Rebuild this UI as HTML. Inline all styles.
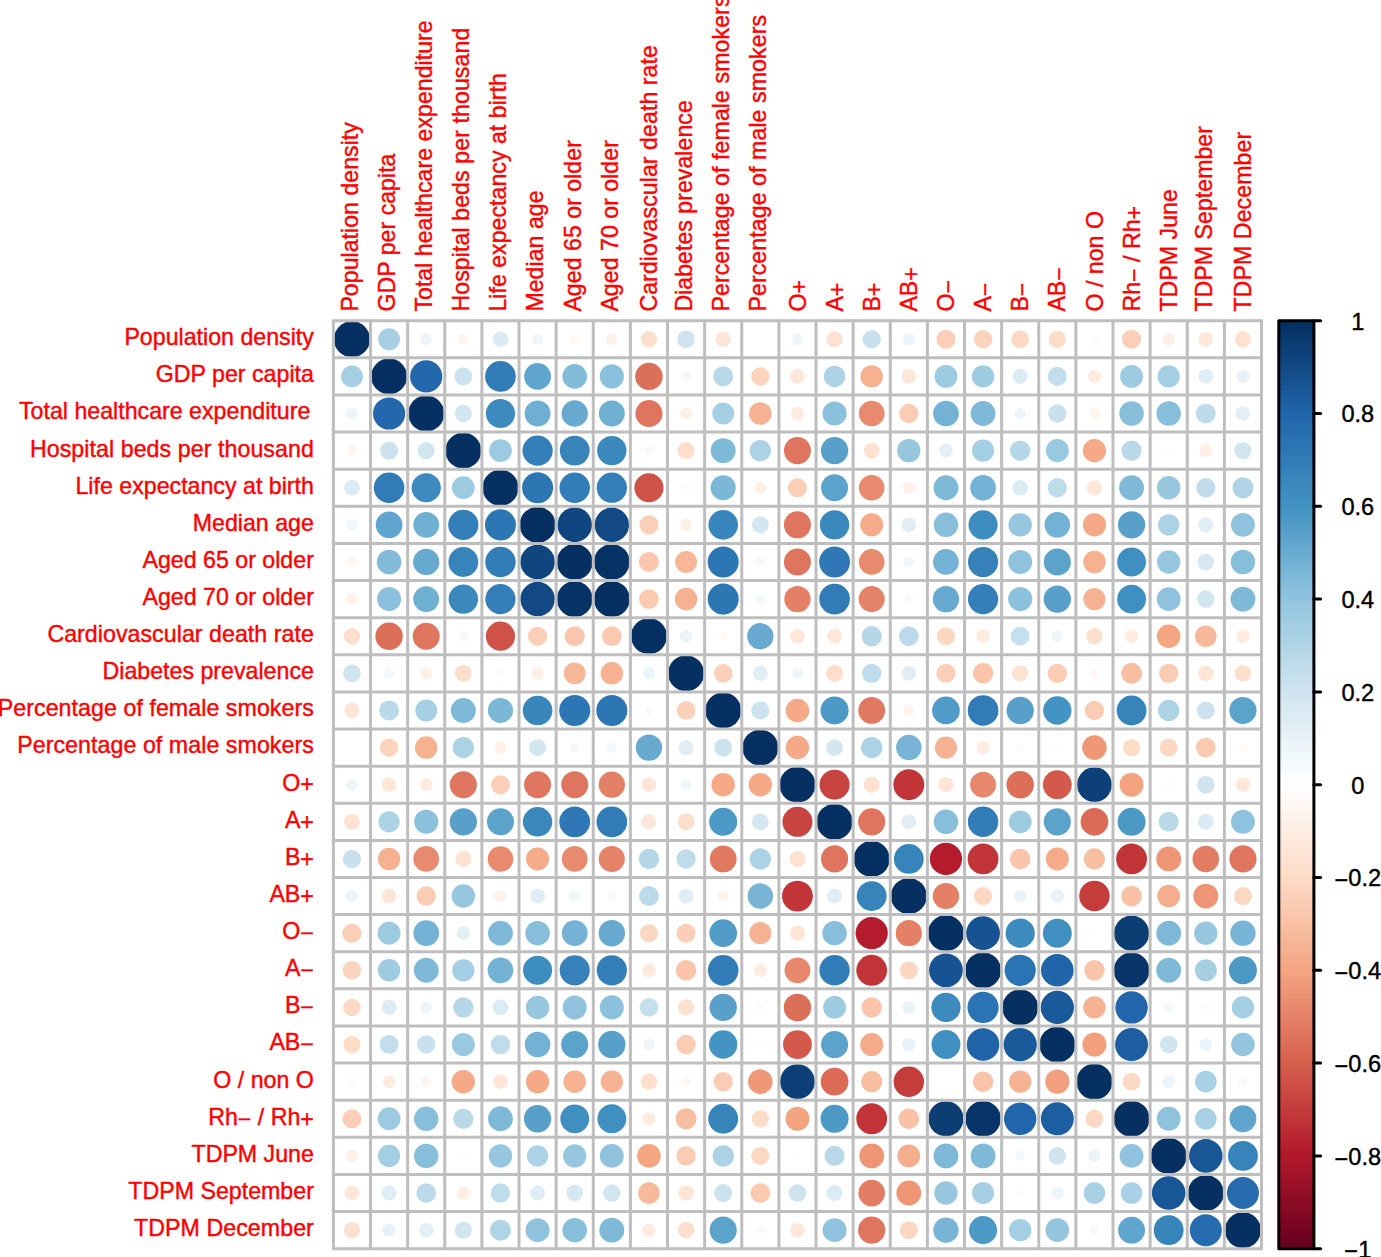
<!DOCTYPE html><html><head><meta charset="utf-8"><title>corrplot</title><style>html,body{margin:0;padding:0;background:#fff}svg{display:block}text{font-family:"Liberation Sans",sans-serif}</style></head><body>
<svg width="1381" height="1257" viewBox="0 0 1381 1257">
<rect width="1381" height="1257" fill="#fff"/>
<g>
<circle cx="351.96" cy="339.26" r="18.01" fill="#053061"/>
<circle cx="389.09" cy="339.26" r="10.95" fill="#A6CFE4"/>
<circle cx="426.21" cy="339.26" r="5.86" fill="#EEF5F9"/>
<circle cx="463.33" cy="339.26" r="5.09" fill="#FEF5F0"/>
<circle cx="500.46" cy="339.26" r="7.82" fill="#DBEBF3"/>
<circle cx="537.58" cy="339.26" r="5.61" fill="#F0F7FA"/>
<circle cx="574.71" cy="339.26" r="4.69" fill="#FFF7F2"/>
<circle cx="611.83" cy="339.26" r="5.77" fill="#FEF1EA"/>
<circle cx="648.95" cy="339.26" r="8.24" fill="#FDDFCE"/>
<circle cx="686.08" cy="339.26" r="8.82" fill="#CFE4EF"/>
<circle cx="723.20" cy="339.26" r="7.60" fill="#FEE5D6"/>
<circle cx="797.45" cy="339.26" r="5.77" fill="#EEF5F9"/>
<circle cx="834.57" cy="339.26" r="8.03" fill="#FDE1D1"/>
<circle cx="871.70" cy="339.26" r="9.19" fill="#C9E1EE"/>
<circle cx="908.82" cy="339.26" r="6.22" fill="#EBF4F9"/>
<circle cx="945.95" cy="339.26" r="9.53" fill="#FBCFB7"/>
<circle cx="983.07" cy="339.26" r="9.19" fill="#FCD4BE"/>
<circle cx="1020.19" cy="339.26" r="8.82" fill="#FDD9C5"/>
<circle cx="1057.32" cy="339.26" r="8.63" fill="#FDDCC8"/>
<circle cx="1094.44" cy="339.26" r="3.71" fill="#FFFAF8"/>
<circle cx="1131.57" cy="339.26" r="9.53" fill="#FBCFB7"/>
<circle cx="1168.69" cy="339.26" r="6.22" fill="#FEF0E7"/>
<circle cx="1205.81" cy="339.26" r="7.37" fill="#FEE7D9"/>
<circle cx="1242.94" cy="339.26" r="8.14" fill="#FDE1D1"/>
<circle cx="351.96" cy="376.38" r="10.95" fill="#A6CFE4"/>
<circle cx="389.09" cy="376.38" r="18.01" fill="#053061"/>
<circle cx="426.21" cy="376.38" r="16.10" fill="#2368AD"/>
<circle cx="463.33" cy="376.38" r="9.01" fill="#CCE2EF"/>
<circle cx="500.46" cy="376.38" r="15.33" fill="#317BB7"/>
<circle cx="537.58" cy="376.38" r="13.40" fill="#60A5CD"/>
<circle cx="574.71" cy="376.38" r="12.30" fill="#83BCD9"/>
<circle cx="611.83" cy="376.38" r="12.05" fill="#8BC1DC"/>
<circle cx="648.95" cy="376.38" r="13.74" fill="#DC6F58"/>
<circle cx="686.08" cy="376.38" r="5.09" fill="#F2F8FB"/>
<circle cx="723.20" cy="376.38" r="10.03" fill="#B9D9E9"/>
<circle cx="760.33" cy="376.38" r="9.19" fill="#FCD4BE"/>
<circle cx="797.45" cy="376.38" r="7.37" fill="#FEE7D9"/>
<circle cx="834.57" cy="376.38" r="10.65" fill="#ACD2E6"/>
<circle cx="871.70" cy="376.38" r="11.23" fill="#F6B191"/>
<circle cx="908.82" cy="376.38" r="7.49" fill="#FEE7D9"/>
<circle cx="945.95" cy="376.38" r="11.44" fill="#9CCAE1"/>
<circle cx="983.07" cy="376.38" r="11.23" fill="#A0CCE2"/>
<circle cx="1020.19" cy="376.38" r="7.60" fill="#DDECF4"/>
<circle cx="1057.32" cy="376.38" r="9.53" fill="#C2DEEC"/>
<circle cx="1094.44" cy="376.38" r="6.63" fill="#FEECE1"/>
<circle cx="1131.57" cy="376.38" r="11.44" fill="#9CCAE1"/>
<circle cx="1168.69" cy="376.38" r="11.09" fill="#A3CEE3"/>
<circle cx="1205.81" cy="376.38" r="7.49" fill="#E0EDF5"/>
<circle cx="1242.94" cy="376.38" r="6.63" fill="#E7F1F7"/>
<circle cx="351.96" cy="413.50" r="5.86" fill="#EEF5F9"/>
<circle cx="389.09" cy="413.50" r="16.10" fill="#2368AD"/>
<circle cx="426.21" cy="413.50" r="18.01" fill="#053061"/>
<circle cx="463.33" cy="413.50" r="8.63" fill="#D2E6F0"/>
<circle cx="500.46" cy="413.50" r="14.61" fill="#3D8ABF"/>
<circle cx="537.58" cy="413.50" r="12.92" fill="#6FAFD2"/>
<circle cx="574.71" cy="413.50" r="13.16" fill="#68AACF"/>
<circle cx="611.83" cy="413.50" r="12.92" fill="#6FAFD2"/>
<circle cx="648.95" cy="413.50" r="13.51" fill="#DF755E"/>
<circle cx="686.08" cy="413.50" r="6.08" fill="#FEF0E7"/>
<circle cx="723.20" cy="413.50" r="10.95" fill="#A6CFE4"/>
<circle cx="760.33" cy="413.50" r="11.23" fill="#F6B191"/>
<circle cx="797.45" cy="413.50" r="6.63" fill="#FEECE1"/>
<circle cx="834.57" cy="413.50" r="12.05" fill="#8BC1DC"/>
<circle cx="871.70" cy="413.50" r="12.86" fill="#E88A6D"/>
<circle cx="908.82" cy="413.50" r="9.70" fill="#FACCB4"/>
<circle cx="945.95" cy="413.50" r="12.86" fill="#73B2D4"/>
<circle cx="983.07" cy="413.50" r="12.43" fill="#7FB9D8"/>
<circle cx="1020.19" cy="413.50" r="5.77" fill="#EEF5F9"/>
<circle cx="1057.32" cy="413.50" r="9.19" fill="#C9E1EE"/>
<circle cx="1094.44" cy="413.50" r="5.27" fill="#FEF5F0"/>
<circle cx="1131.57" cy="413.50" r="12.24" fill="#87BEDA"/>
<circle cx="1168.69" cy="413.50" r="12.24" fill="#87BEDA"/>
<circle cx="1205.81" cy="413.50" r="9.87" fill="#BCDAEA"/>
<circle cx="1242.94" cy="413.50" r="7.26" fill="#E2EFF6"/>
<circle cx="351.96" cy="450.62" r="5.09" fill="#FEF5F0"/>
<circle cx="389.09" cy="450.62" r="9.01" fill="#CCE2EF"/>
<circle cx="426.21" cy="450.62" r="8.63" fill="#D2E6F0"/>
<circle cx="463.33" cy="450.62" r="18.01" fill="#053061"/>
<circle cx="500.46" cy="450.62" r="11.37" fill="#9CCAE1"/>
<circle cx="537.58" cy="450.62" r="15.13" fill="#347FB9"/>
<circle cx="574.71" cy="450.62" r="14.92" fill="#3784BB"/>
<circle cx="611.83" cy="450.62" r="14.71" fill="#3B88BD"/>
<circle cx="648.95" cy="450.62" r="4.89" fill="#F5F9FC"/>
<circle cx="686.08" cy="450.62" r="8.44" fill="#FDDECB"/>
<circle cx="723.20" cy="450.62" r="12.49" fill="#7FB9D8"/>
<circle cx="760.33" cy="450.62" r="10.65" fill="#ACD2E6"/>
<circle cx="797.45" cy="450.62" r="13.51" fill="#DF755E"/>
<circle cx="834.57" cy="450.62" r="13.68" fill="#58A0CA"/>
<circle cx="871.70" cy="450.62" r="7.99" fill="#FDE1D1"/>
<circle cx="908.82" cy="450.62" r="11.72" fill="#96C7DF"/>
<circle cx="945.95" cy="450.62" r="6.89" fill="#E4F0F6"/>
<circle cx="983.07" cy="450.62" r="11.09" fill="#A3CEE3"/>
<circle cx="1020.19" cy="450.62" r="10.19" fill="#B6D7E8"/>
<circle cx="1057.32" cy="450.62" r="11.51" fill="#99C9E0"/>
<circle cx="1094.44" cy="450.62" r="11.65" fill="#F5A987"/>
<circle cx="1131.57" cy="450.62" r="10.11" fill="#B9D9E9"/>
<circle cx="1168.69" cy="450.62" r="3.02" fill="#FCFDFE"/>
<circle cx="1205.81" cy="450.62" r="6.50" fill="#FEEEE4"/>
<circle cx="1242.94" cy="450.62" r="8.63" fill="#D2E6F0"/>
<circle cx="351.96" cy="487.74" r="7.82" fill="#DBEBF3"/>
<circle cx="389.09" cy="487.74" r="15.33" fill="#317BB7"/>
<circle cx="426.21" cy="487.74" r="14.61" fill="#3D8ABF"/>
<circle cx="463.33" cy="487.74" r="11.37" fill="#9CCAE1"/>
<circle cx="500.46" cy="487.74" r="18.01" fill="#053061"/>
<circle cx="537.58" cy="487.74" r="15.53" fill="#2D76B4"/>
<circle cx="574.71" cy="487.74" r="15.23" fill="#327DB8"/>
<circle cx="611.83" cy="487.74" r="15.13" fill="#347FB9"/>
<circle cx="648.95" cy="487.74" r="14.61" fill="#CF5247"/>
<circle cx="686.08" cy="487.74" r="3.71" fill="#F9FCFD"/>
<circle cx="723.20" cy="487.74" r="12.56" fill="#7BB7D6"/>
<circle cx="760.33" cy="487.74" r="6.08" fill="#FEF0E7"/>
<circle cx="797.45" cy="487.74" r="9.53" fill="#FBCFB7"/>
<circle cx="834.57" cy="487.74" r="13.51" fill="#5CA3CB"/>
<circle cx="871.70" cy="487.74" r="12.80" fill="#E88A6D"/>
<circle cx="908.82" cy="487.74" r="5.93" fill="#FEF1EA"/>
<circle cx="945.95" cy="487.74" r="12.43" fill="#7FB9D8"/>
<circle cx="983.07" cy="487.74" r="12.86" fill="#73B2D4"/>
<circle cx="1020.19" cy="487.74" r="7.82" fill="#DBEBF3"/>
<circle cx="1057.32" cy="487.74" r="9.70" fill="#BFDCEB"/>
<circle cx="1094.44" cy="487.74" r="7.37" fill="#FEE7D9"/>
<circle cx="1131.57" cy="487.74" r="12.43" fill="#7FB9D8"/>
<circle cx="1168.69" cy="487.74" r="11.72" fill="#96C7DF"/>
<circle cx="1205.81" cy="487.74" r="9.70" fill="#BFDCEB"/>
<circle cx="1242.94" cy="487.74" r="10.50" fill="#AFD4E6"/>
<circle cx="351.96" cy="524.86" r="5.61" fill="#F0F7FA"/>
<circle cx="389.09" cy="524.86" r="13.40" fill="#60A5CD"/>
<circle cx="426.21" cy="524.86" r="12.92" fill="#6FAFD2"/>
<circle cx="463.33" cy="524.86" r="15.13" fill="#347FB9"/>
<circle cx="500.46" cy="524.86" r="15.53" fill="#2D76B4"/>
<circle cx="537.58" cy="524.86" r="18.01" fill="#053061"/>
<circle cx="574.71" cy="524.86" r="17.32" fill="#10467F"/>
<circle cx="611.83" cy="524.86" r="17.24" fill="#124883"/>
<circle cx="648.95" cy="524.86" r="9.53" fill="#FBCFB7"/>
<circle cx="686.08" cy="524.86" r="6.08" fill="#FEF0E7"/>
<circle cx="723.20" cy="524.86" r="14.82" fill="#3986BC"/>
<circle cx="760.33" cy="524.86" r="8.44" fill="#D4E7F1"/>
<circle cx="797.45" cy="524.86" r="13.51" fill="#DF755E"/>
<circle cx="834.57" cy="524.86" r="14.71" fill="#3B88BD"/>
<circle cx="871.70" cy="524.86" r="11.51" fill="#F5AB8A"/>
<circle cx="908.82" cy="524.86" r="7.37" fill="#E0EDF5"/>
<circle cx="945.95" cy="524.86" r="12.24" fill="#87BEDA"/>
<circle cx="983.07" cy="524.86" r="14.56" fill="#3E8DC0"/>
<circle cx="1020.19" cy="524.86" r="11.72" fill="#96C7DF"/>
<circle cx="1057.32" cy="524.86" r="12.80" fill="#73B2D4"/>
<circle cx="1094.44" cy="524.86" r="11.65" fill="#F5A987"/>
<circle cx="1131.57" cy="524.86" r="13.68" fill="#58A0CA"/>
<circle cx="1168.69" cy="524.86" r="10.65" fill="#ACD2E6"/>
<circle cx="1205.81" cy="524.86" r="7.49" fill="#E0EDF5"/>
<circle cx="1242.94" cy="524.86" r="11.98" fill="#8FC3DD"/>
<circle cx="351.96" cy="561.98" r="4.69" fill="#FFF7F2"/>
<circle cx="389.09" cy="561.98" r="12.30" fill="#83BCD9"/>
<circle cx="426.21" cy="561.98" r="13.16" fill="#68AACF"/>
<circle cx="463.33" cy="561.98" r="14.92" fill="#3784BB"/>
<circle cx="500.46" cy="561.98" r="15.23" fill="#327DB8"/>
<circle cx="537.58" cy="561.98" r="17.32" fill="#10467F"/>
<circle cx="574.71" cy="561.98" r="18.01" fill="#053061"/>
<circle cx="611.83" cy="561.98" r="17.92" fill="#063365"/>
<circle cx="648.95" cy="561.98" r="10.03" fill="#FAC6AD"/>
<circle cx="686.08" cy="561.98" r="10.95" fill="#F7B698"/>
<circle cx="723.20" cy="561.98" r="15.53" fill="#2D76B4"/>
<circle cx="760.33" cy="561.98" r="4.89" fill="#F5F9FC"/>
<circle cx="797.45" cy="561.98" r="13.51" fill="#DF755E"/>
<circle cx="834.57" cy="561.98" r="15.43" fill="#2F78B5"/>
<circle cx="871.70" cy="561.98" r="12.86" fill="#E88A6D"/>
<circle cx="908.82" cy="561.98" r="5.44" fill="#F0F7FA"/>
<circle cx="945.95" cy="561.98" r="12.86" fill="#73B2D4"/>
<circle cx="983.07" cy="561.98" r="15.08" fill="#3681BA"/>
<circle cx="1020.19" cy="561.98" r="11.98" fill="#8FC3DD"/>
<circle cx="1057.32" cy="561.98" r="13.57" fill="#5CA3CB"/>
<circle cx="1094.44" cy="561.98" r="11.23" fill="#F6B191"/>
<circle cx="1131.57" cy="561.98" r="14.40" fill="#408FC1"/>
<circle cx="1168.69" cy="561.98" r="11.65" fill="#96C7DF"/>
<circle cx="1205.81" cy="561.98" r="8.34" fill="#D7E8F2"/>
<circle cx="1242.94" cy="561.98" r="12.24" fill="#87BEDA"/>
<circle cx="351.96" cy="599.10" r="5.77" fill="#FEF1EA"/>
<circle cx="389.09" cy="599.10" r="12.05" fill="#8BC1DC"/>
<circle cx="426.21" cy="599.10" r="12.92" fill="#6FAFD2"/>
<circle cx="463.33" cy="599.10" r="14.71" fill="#3B88BD"/>
<circle cx="500.46" cy="599.10" r="15.13" fill="#347FB9"/>
<circle cx="537.58" cy="599.10" r="17.24" fill="#124883"/>
<circle cx="574.71" cy="599.10" r="17.92" fill="#063365"/>
<circle cx="611.83" cy="599.10" r="18.01" fill="#053061"/>
<circle cx="648.95" cy="599.10" r="9.87" fill="#FAC9B0"/>
<circle cx="686.08" cy="599.10" r="11.23" fill="#F6B191"/>
<circle cx="723.20" cy="599.10" r="15.53" fill="#2D76B4"/>
<circle cx="760.33" cy="599.10" r="5.09" fill="#F2F8FB"/>
<circle cx="797.45" cy="599.10" r="13.16" fill="#E48066"/>
<circle cx="834.57" cy="599.10" r="15.33" fill="#317BB7"/>
<circle cx="871.70" cy="599.10" r="13.04" fill="#E58368"/>
<circle cx="908.82" cy="599.10" r="4.24" fill="#F7FAFC"/>
<circle cx="945.95" cy="599.10" r="13.22" fill="#68AACF"/>
<circle cx="983.07" cy="599.10" r="15.13" fill="#347FB9"/>
<circle cx="1020.19" cy="599.10" r="12.05" fill="#8BC1DC"/>
<circle cx="1057.32" cy="599.10" r="13.68" fill="#58A0CA"/>
<circle cx="1094.44" cy="599.10" r="11.09" fill="#F6B394"/>
<circle cx="1131.57" cy="599.10" r="14.45" fill="#408FC1"/>
<circle cx="1168.69" cy="599.10" r="11.92" fill="#8FC3DD"/>
<circle cx="1205.81" cy="599.10" r="8.73" fill="#D2E6F0"/>
<circle cx="1242.94" cy="599.10" r="12.43" fill="#7FB9D8"/>
<circle cx="351.96" cy="636.22" r="8.24" fill="#FDDFCE"/>
<circle cx="389.09" cy="636.22" r="13.74" fill="#DC6F58"/>
<circle cx="426.21" cy="636.22" r="13.51" fill="#DF755E"/>
<circle cx="463.33" cy="636.22" r="4.89" fill="#F5F9FC"/>
<circle cx="500.46" cy="636.22" r="14.61" fill="#CF5247"/>
<circle cx="537.58" cy="636.22" r="9.53" fill="#FBCFB7"/>
<circle cx="574.71" cy="636.22" r="10.03" fill="#FAC6AD"/>
<circle cx="611.83" cy="636.22" r="9.87" fill="#FAC9B0"/>
<circle cx="648.95" cy="636.22" r="18.01" fill="#053061"/>
<circle cx="686.08" cy="636.22" r="6.22" fill="#EBF4F9"/>
<circle cx="723.20" cy="636.22" r="4.24" fill="#FFF9F5"/>
<circle cx="760.33" cy="636.22" r="13.16" fill="#68AACF"/>
<circle cx="797.45" cy="636.22" r="7.37" fill="#FEE7D9"/>
<circle cx="834.57" cy="636.22" r="7.49" fill="#FEE7D9"/>
<circle cx="871.70" cy="636.22" r="10.19" fill="#B6D7E8"/>
<circle cx="908.82" cy="636.22" r="9.95" fill="#BCDAEA"/>
<circle cx="945.95" cy="636.22" r="9.01" fill="#FCD7C1"/>
<circle cx="983.07" cy="636.22" r="6.89" fill="#FEEADF"/>
<circle cx="1020.19" cy="636.22" r="9.36" fill="#C6DFED"/>
<circle cx="1057.32" cy="636.22" r="5.77" fill="#EEF5F9"/>
<circle cx="1094.44" cy="636.22" r="8.24" fill="#FDDFCE"/>
<circle cx="1131.57" cy="636.22" r="6.63" fill="#FEECE1"/>
<circle cx="1168.69" cy="636.22" r="11.78" fill="#F4A683"/>
<circle cx="1205.81" cy="636.22" r="10.80" fill="#F7B99B"/>
<circle cx="1242.94" cy="636.22" r="6.76" fill="#FEECE1"/>
<circle cx="351.96" cy="673.34" r="8.82" fill="#CFE4EF"/>
<circle cx="389.09" cy="673.34" r="5.09" fill="#F2F8FB"/>
<circle cx="426.21" cy="673.34" r="6.08" fill="#FEF0E7"/>
<circle cx="463.33" cy="673.34" r="8.44" fill="#FDDECB"/>
<circle cx="500.46" cy="673.34" r="3.71" fill="#F9FCFD"/>
<circle cx="537.58" cy="673.34" r="6.08" fill="#FEF0E7"/>
<circle cx="574.71" cy="673.34" r="10.95" fill="#F7B698"/>
<circle cx="611.83" cy="673.34" r="11.23" fill="#F6B191"/>
<circle cx="648.95" cy="673.34" r="6.22" fill="#EBF4F9"/>
<circle cx="686.08" cy="673.34" r="18.01" fill="#053061"/>
<circle cx="723.20" cy="673.34" r="9.36" fill="#FBD1BB"/>
<circle cx="760.33" cy="673.34" r="7.49" fill="#E0EDF5"/>
<circle cx="797.45" cy="673.34" r="5.44" fill="#F0F7FA"/>
<circle cx="834.57" cy="673.34" r="8.44" fill="#FDDECB"/>
<circle cx="871.70" cy="673.34" r="9.70" fill="#BFDCEB"/>
<circle cx="908.82" cy="673.34" r="7.37" fill="#E0EDF5"/>
<circle cx="945.95" cy="673.34" r="9.53" fill="#FBCFB7"/>
<circle cx="983.07" cy="673.34" r="10.27" fill="#F9C4A9"/>
<circle cx="1020.19" cy="673.34" r="8.14" fill="#FDE1D1"/>
<circle cx="1057.32" cy="673.34" r="9.70" fill="#FACCB4"/>
<circle cx="1094.44" cy="673.34" r="4.69" fill="#FFF7F2"/>
<circle cx="1131.57" cy="673.34" r="10.50" fill="#F8BEA2"/>
<circle cx="1168.69" cy="673.34" r="9.70" fill="#FACCB4"/>
<circle cx="1205.81" cy="673.34" r="7.71" fill="#FEE5D6"/>
<circle cx="1242.94" cy="673.34" r="8.24" fill="#FDDFCE"/>
<circle cx="351.96" cy="710.46" r="7.60" fill="#FEE5D6"/>
<circle cx="389.09" cy="710.46" r="10.03" fill="#B9D9E9"/>
<circle cx="426.21" cy="710.46" r="10.95" fill="#A6CFE4"/>
<circle cx="463.33" cy="710.46" r="12.49" fill="#7FB9D8"/>
<circle cx="500.46" cy="710.46" r="12.56" fill="#7BB7D6"/>
<circle cx="537.58" cy="710.46" r="14.82" fill="#3986BC"/>
<circle cx="574.71" cy="710.46" r="15.53" fill="#2D76B4"/>
<circle cx="611.83" cy="710.46" r="15.53" fill="#2D76B4"/>
<circle cx="648.95" cy="710.46" r="4.24" fill="#FFF9F5"/>
<circle cx="686.08" cy="710.46" r="9.36" fill="#FBD1BB"/>
<circle cx="723.20" cy="710.46" r="18.01" fill="#053061"/>
<circle cx="760.33" cy="710.46" r="9.01" fill="#CCE2EF"/>
<circle cx="797.45" cy="710.46" r="11.72" fill="#F5A987"/>
<circle cx="834.57" cy="710.46" r="14.02" fill="#4C99C6"/>
<circle cx="871.70" cy="710.46" r="13.40" fill="#E17960"/>
<circle cx="908.82" cy="710.46" r="5.44" fill="#FEF3ED"/>
<circle cx="945.95" cy="710.46" r="13.85" fill="#509BC7"/>
<circle cx="983.07" cy="710.46" r="15.33" fill="#317BB7"/>
<circle cx="1020.19" cy="710.46" r="13.68" fill="#58A0CA"/>
<circle cx="1057.32" cy="710.46" r="14.18" fill="#4494C3"/>
<circle cx="1094.44" cy="710.46" r="9.70" fill="#FACCB4"/>
<circle cx="1131.57" cy="710.46" r="14.92" fill="#3784BB"/>
<circle cx="1168.69" cy="710.46" r="10.65" fill="#ACD2E6"/>
<circle cx="1205.81" cy="710.46" r="9.01" fill="#CCE2EF"/>
<circle cx="1242.94" cy="710.46" r="13.57" fill="#5CA3CB"/>
<circle cx="389.09" cy="747.58" r="9.19" fill="#FCD4BE"/>
<circle cx="426.21" cy="747.58" r="11.23" fill="#F6B191"/>
<circle cx="463.33" cy="747.58" r="10.65" fill="#ACD2E6"/>
<circle cx="500.46" cy="747.58" r="6.08" fill="#FEF0E7"/>
<circle cx="537.58" cy="747.58" r="8.44" fill="#D4E7F1"/>
<circle cx="574.71" cy="747.58" r="4.89" fill="#F5F9FC"/>
<circle cx="611.83" cy="747.58" r="5.09" fill="#F2F8FB"/>
<circle cx="648.95" cy="747.58" r="13.16" fill="#68AACF"/>
<circle cx="686.08" cy="747.58" r="7.49" fill="#E0EDF5"/>
<circle cx="723.20" cy="747.58" r="9.01" fill="#CCE2EF"/>
<circle cx="760.33" cy="747.58" r="18.01" fill="#053061"/>
<circle cx="797.45" cy="747.58" r="11.72" fill="#F5A987"/>
<circle cx="834.57" cy="747.58" r="8.44" fill="#D4E7F1"/>
<circle cx="871.70" cy="747.58" r="10.65" fill="#ACD2E6"/>
<circle cx="908.82" cy="747.58" r="12.74" fill="#77B4D5"/>
<circle cx="945.95" cy="747.58" r="11.09" fill="#F6B394"/>
<circle cx="983.07" cy="747.58" r="6.63" fill="#FEECE1"/>
<circle cx="1020.19" cy="747.58" r="3.71" fill="#F9FCFD"/>
<circle cx="1057.32" cy="747.58" r="3.02" fill="#FCFDFE"/>
<circle cx="1094.44" cy="747.58" r="12.30" fill="#EE9878"/>
<circle cx="1131.57" cy="747.58" r="8.63" fill="#FDDCC8"/>
<circle cx="1168.69" cy="747.58" r="9.01" fill="#FCD7C1"/>
<circle cx="1205.81" cy="747.58" r="9.87" fill="#FAC9B0"/>
<circle cx="1242.94" cy="747.58" r="4.24" fill="#FFF9F5"/>
<circle cx="351.96" cy="784.70" r="5.77" fill="#EEF5F9"/>
<circle cx="389.09" cy="784.70" r="7.37" fill="#FEE7D9"/>
<circle cx="426.21" cy="784.70" r="6.63" fill="#FEECE1"/>
<circle cx="463.33" cy="784.70" r="13.51" fill="#DF755E"/>
<circle cx="500.46" cy="784.70" r="9.53" fill="#FBCFB7"/>
<circle cx="537.58" cy="784.70" r="13.51" fill="#DF755E"/>
<circle cx="574.71" cy="784.70" r="13.51" fill="#DF755E"/>
<circle cx="611.83" cy="784.70" r="13.16" fill="#E48066"/>
<circle cx="648.95" cy="784.70" r="7.37" fill="#FEE7D9"/>
<circle cx="686.08" cy="784.70" r="5.44" fill="#F0F7FA"/>
<circle cx="723.20" cy="784.70" r="11.72" fill="#F5A987"/>
<circle cx="760.33" cy="784.70" r="11.72" fill="#F5A987"/>
<circle cx="797.45" cy="784.70" r="18.01" fill="#053061"/>
<circle cx="834.57" cy="784.70" r="15.02" fill="#C84440"/>
<circle cx="871.70" cy="784.70" r="8.03" fill="#FDE1D1"/>
<circle cx="908.82" cy="784.70" r="15.43" fill="#C13539"/>
<circle cx="945.95" cy="784.70" r="7.60" fill="#FEE5D6"/>
<circle cx="983.07" cy="784.70" r="12.92" fill="#E7876B"/>
<circle cx="1020.19" cy="784.70" r="13.74" fill="#DC6F58"/>
<circle cx="1057.32" cy="784.70" r="14.40" fill="#D3594A"/>
<circle cx="1094.44" cy="784.70" r="17.41" fill="#0D4078"/>
<circle cx="1131.57" cy="784.70" r="11.98" fill="#F3A380"/>
<circle cx="1168.69" cy="784.70" r="3.02" fill="#FCFDFE"/>
<circle cx="1205.81" cy="784.70" r="8.82" fill="#CFE4EF"/>
<circle cx="1242.94" cy="784.70" r="7.26" fill="#FEE8DC"/>
<circle cx="351.96" cy="821.82" r="8.03" fill="#FDE1D1"/>
<circle cx="389.09" cy="821.82" r="10.65" fill="#ACD2E6"/>
<circle cx="426.21" cy="821.82" r="12.05" fill="#8BC1DC"/>
<circle cx="463.33" cy="821.82" r="13.68" fill="#58A0CA"/>
<circle cx="500.46" cy="821.82" r="13.51" fill="#5CA3CB"/>
<circle cx="537.58" cy="821.82" r="14.71" fill="#3B88BD"/>
<circle cx="574.71" cy="821.82" r="15.43" fill="#2F78B5"/>
<circle cx="611.83" cy="821.82" r="15.33" fill="#317BB7"/>
<circle cx="648.95" cy="821.82" r="7.49" fill="#FEE7D9"/>
<circle cx="686.08" cy="821.82" r="8.44" fill="#FDDECB"/>
<circle cx="723.20" cy="821.82" r="14.02" fill="#4C99C6"/>
<circle cx="760.33" cy="821.82" r="8.44" fill="#D4E7F1"/>
<circle cx="797.45" cy="821.82" r="15.02" fill="#C84440"/>
<circle cx="834.57" cy="821.82" r="18.01" fill="#053061"/>
<circle cx="871.70" cy="821.82" r="13.57" fill="#DF755E"/>
<circle cx="908.82" cy="821.82" r="7.37" fill="#E0EDF5"/>
<circle cx="945.95" cy="821.82" r="12.24" fill="#87BEDA"/>
<circle cx="983.07" cy="821.82" r="15.23" fill="#327DB8"/>
<circle cx="1020.19" cy="821.82" r="11.37" fill="#9CCAE1"/>
<circle cx="1057.32" cy="821.82" r="13.57" fill="#5CA3CB"/>
<circle cx="1094.44" cy="821.82" r="13.85" fill="#DB6B56"/>
<circle cx="1131.57" cy="821.82" r="14.02" fill="#4C99C6"/>
<circle cx="1168.69" cy="821.82" r="10.03" fill="#B9D9E9"/>
<circle cx="1205.81" cy="821.82" r="7.93" fill="#DBEBF3"/>
<circle cx="1242.94" cy="821.82" r="11.98" fill="#8FC3DD"/>
<circle cx="351.96" cy="858.94" r="9.19" fill="#C9E1EE"/>
<circle cx="389.09" cy="858.94" r="11.23" fill="#F6B191"/>
<circle cx="426.21" cy="858.94" r="12.86" fill="#E88A6D"/>
<circle cx="463.33" cy="858.94" r="7.99" fill="#FDE1D1"/>
<circle cx="500.46" cy="858.94" r="12.80" fill="#E88A6D"/>
<circle cx="537.58" cy="858.94" r="11.51" fill="#F5AB8A"/>
<circle cx="574.71" cy="858.94" r="12.86" fill="#E88A6D"/>
<circle cx="611.83" cy="858.94" r="13.04" fill="#E58368"/>
<circle cx="648.95" cy="858.94" r="10.19" fill="#B6D7E8"/>
<circle cx="686.08" cy="858.94" r="9.70" fill="#BFDCEB"/>
<circle cx="723.20" cy="858.94" r="13.40" fill="#E17960"/>
<circle cx="760.33" cy="858.94" r="10.65" fill="#ACD2E6"/>
<circle cx="797.45" cy="858.94" r="8.03" fill="#FDE1D1"/>
<circle cx="834.57" cy="858.94" r="13.57" fill="#DF755E"/>
<circle cx="871.70" cy="858.94" r="18.01" fill="#053061"/>
<circle cx="908.82" cy="858.94" r="14.92" fill="#3784BB"/>
<circle cx="945.95" cy="858.94" r="16.10" fill="#B41C2D"/>
<circle cx="983.07" cy="858.94" r="15.43" fill="#C13539"/>
<circle cx="1020.19" cy="858.94" r="10.19" fill="#F9C4A9"/>
<circle cx="1057.32" cy="858.94" r="11.51" fill="#F5AB8A"/>
<circle cx="1094.44" cy="858.94" r="10.58" fill="#F8BEA2"/>
<circle cx="1131.57" cy="858.94" r="15.43" fill="#C13539"/>
<circle cx="1168.69" cy="858.94" r="12.43" fill="#ED9575"/>
<circle cx="1205.81" cy="858.94" r="13.28" fill="#E27C63"/>
<circle cx="1242.94" cy="858.94" r="13.57" fill="#DF755E"/>
<circle cx="351.96" cy="896.06" r="6.22" fill="#EBF4F9"/>
<circle cx="389.09" cy="896.06" r="7.49" fill="#FEE7D9"/>
<circle cx="426.21" cy="896.06" r="9.70" fill="#FACCB4"/>
<circle cx="463.33" cy="896.06" r="11.72" fill="#96C7DF"/>
<circle cx="500.46" cy="896.06" r="5.93" fill="#FEF1EA"/>
<circle cx="537.58" cy="896.06" r="7.37" fill="#E0EDF5"/>
<circle cx="574.71" cy="896.06" r="5.44" fill="#F0F7FA"/>
<circle cx="611.83" cy="896.06" r="4.24" fill="#F7FAFC"/>
<circle cx="648.95" cy="896.06" r="9.95" fill="#BCDAEA"/>
<circle cx="686.08" cy="896.06" r="7.37" fill="#E0EDF5"/>
<circle cx="723.20" cy="896.06" r="5.44" fill="#FEF3ED"/>
<circle cx="760.33" cy="896.06" r="12.74" fill="#77B4D5"/>
<circle cx="797.45" cy="896.06" r="15.43" fill="#C13539"/>
<circle cx="834.57" cy="896.06" r="7.37" fill="#E0EDF5"/>
<circle cx="871.70" cy="896.06" r="14.92" fill="#3784BB"/>
<circle cx="908.82" cy="896.06" r="18.01" fill="#053061"/>
<circle cx="945.95" cy="896.06" r="13.16" fill="#E48066"/>
<circle cx="983.07" cy="896.06" r="9.01" fill="#FCD7C1"/>
<circle cx="1020.19" cy="896.06" r="6.36" fill="#E9F3F8"/>
<circle cx="1057.32" cy="896.06" r="6.76" fill="#E7F1F7"/>
<circle cx="1094.44" cy="896.06" r="15.23" fill="#C43D3C"/>
<circle cx="1131.57" cy="896.06" r="10.35" fill="#F9C1A6"/>
<circle cx="1168.69" cy="896.06" r="11.37" fill="#F5AE8D"/>
<circle cx="1205.81" cy="896.06" r="12.43" fill="#ED9575"/>
<circle cx="1242.94" cy="896.06" r="9.01" fill="#FCD7C1"/>
<circle cx="351.96" cy="933.18" r="9.53" fill="#FBCFB7"/>
<circle cx="389.09" cy="933.18" r="11.44" fill="#9CCAE1"/>
<circle cx="426.21" cy="933.18" r="12.86" fill="#73B2D4"/>
<circle cx="463.33" cy="933.18" r="6.89" fill="#E4F0F6"/>
<circle cx="500.46" cy="933.18" r="12.43" fill="#7FB9D8"/>
<circle cx="537.58" cy="933.18" r="12.24" fill="#87BEDA"/>
<circle cx="574.71" cy="933.18" r="12.86" fill="#73B2D4"/>
<circle cx="611.83" cy="933.18" r="13.22" fill="#68AACF"/>
<circle cx="648.95" cy="933.18" r="9.01" fill="#FCD7C1"/>
<circle cx="686.08" cy="933.18" r="9.53" fill="#FBCFB7"/>
<circle cx="723.20" cy="933.18" r="13.85" fill="#509BC7"/>
<circle cx="760.33" cy="933.18" r="11.09" fill="#F6B394"/>
<circle cx="797.45" cy="933.18" r="7.60" fill="#FEE5D6"/>
<circle cx="834.57" cy="933.18" r="12.24" fill="#87BEDA"/>
<circle cx="871.70" cy="933.18" r="16.10" fill="#B41C2D"/>
<circle cx="908.82" cy="933.18" r="13.16" fill="#E48066"/>
<circle cx="945.95" cy="933.18" r="18.01" fill="#053061"/>
<circle cx="983.07" cy="933.18" r="16.88" fill="#175392"/>
<circle cx="1020.19" cy="933.18" r="14.61" fill="#3D8ABF"/>
<circle cx="1057.32" cy="933.18" r="14.45" fill="#408FC1"/>
<circle cx="1094.44" cy="933.18" r="2.53" fill="#FEFEFF"/>
<circle cx="1131.57" cy="933.18" r="17.58" fill="#0C3E74"/>
<circle cx="1168.69" cy="933.18" r="12.43" fill="#7FB9D8"/>
<circle cx="1205.81" cy="933.18" r="11.65" fill="#96C7DF"/>
<circle cx="1242.94" cy="933.18" r="12.68" fill="#77B4D5"/>
<circle cx="351.96" cy="970.30" r="9.19" fill="#FCD4BE"/>
<circle cx="389.09" cy="970.30" r="11.23" fill="#A0CCE2"/>
<circle cx="426.21" cy="970.30" r="12.43" fill="#7FB9D8"/>
<circle cx="463.33" cy="970.30" r="11.09" fill="#A3CEE3"/>
<circle cx="500.46" cy="970.30" r="12.86" fill="#73B2D4"/>
<circle cx="537.58" cy="970.30" r="14.56" fill="#3E8DC0"/>
<circle cx="574.71" cy="970.30" r="15.08" fill="#3681BA"/>
<circle cx="611.83" cy="970.30" r="15.13" fill="#347FB9"/>
<circle cx="648.95" cy="970.30" r="6.89" fill="#FEEADF"/>
<circle cx="686.08" cy="970.30" r="10.27" fill="#F9C4A9"/>
<circle cx="723.20" cy="970.30" r="15.33" fill="#317BB7"/>
<circle cx="760.33" cy="970.30" r="6.63" fill="#FEECE1"/>
<circle cx="797.45" cy="970.30" r="12.92" fill="#E7876B"/>
<circle cx="834.57" cy="970.30" r="15.23" fill="#327DB8"/>
<circle cx="871.70" cy="970.30" r="15.43" fill="#C13539"/>
<circle cx="908.82" cy="970.30" r="9.01" fill="#FCD7C1"/>
<circle cx="945.95" cy="970.30" r="16.88" fill="#175392"/>
<circle cx="983.07" cy="970.30" r="18.01" fill="#053061"/>
<circle cx="1020.19" cy="970.30" r="15.62" fill="#2B74B3"/>
<circle cx="1057.32" cy="970.30" r="16.29" fill="#2064A9"/>
<circle cx="1094.44" cy="970.30" r="10.27" fill="#F9C4A9"/>
<circle cx="1131.57" cy="970.30" r="17.84" fill="#083569"/>
<circle cx="1168.69" cy="970.30" r="12.43" fill="#7FB9D8"/>
<circle cx="1205.81" cy="970.30" r="11.02" fill="#A6CFE4"/>
<circle cx="1242.94" cy="970.30" r="14.02" fill="#4C99C6"/>
<circle cx="351.96" cy="1007.42" r="8.82" fill="#FDD9C5"/>
<circle cx="389.09" cy="1007.42" r="7.60" fill="#DDECF4"/>
<circle cx="426.21" cy="1007.42" r="5.77" fill="#EEF5F9"/>
<circle cx="463.33" cy="1007.42" r="10.19" fill="#B6D7E8"/>
<circle cx="500.46" cy="1007.42" r="7.82" fill="#DBEBF3"/>
<circle cx="537.58" cy="1007.42" r="11.72" fill="#96C7DF"/>
<circle cx="574.71" cy="1007.42" r="11.98" fill="#8FC3DD"/>
<circle cx="611.83" cy="1007.42" r="12.05" fill="#8BC1DC"/>
<circle cx="648.95" cy="1007.42" r="9.36" fill="#C6DFED"/>
<circle cx="686.08" cy="1007.42" r="8.14" fill="#FDE1D1"/>
<circle cx="723.20" cy="1007.42" r="13.68" fill="#58A0CA"/>
<circle cx="760.33" cy="1007.42" r="3.71" fill="#F9FCFD"/>
<circle cx="797.45" cy="1007.42" r="13.74" fill="#DC6F58"/>
<circle cx="834.57" cy="1007.42" r="11.37" fill="#9CCAE1"/>
<circle cx="871.70" cy="1007.42" r="10.19" fill="#F9C4A9"/>
<circle cx="908.82" cy="1007.42" r="6.36" fill="#E9F3F8"/>
<circle cx="945.95" cy="1007.42" r="14.61" fill="#3D8ABF"/>
<circle cx="983.07" cy="1007.42" r="15.62" fill="#2B74B3"/>
<circle cx="1020.19" cy="1007.42" r="18.01" fill="#053061"/>
<circle cx="1057.32" cy="1007.42" r="16.66" fill="#1A599A"/>
<circle cx="1094.44" cy="1007.42" r="11.16" fill="#F6B394"/>
<circle cx="1131.57" cy="1007.42" r="16.20" fill="#2166AC"/>
<circle cx="1168.69" cy="1007.42" r="5.09" fill="#F2F8FB"/>
<circle cx="1205.81" cy="1007.42" r="3.71" fill="#F9FCFD"/>
<circle cx="1242.94" cy="1007.42" r="11.16" fill="#A3CEE3"/>
<circle cx="351.96" cy="1044.54" r="8.63" fill="#FDDCC8"/>
<circle cx="389.09" cy="1044.54" r="9.53" fill="#C2DEEC"/>
<circle cx="426.21" cy="1044.54" r="9.19" fill="#C9E1EE"/>
<circle cx="463.33" cy="1044.54" r="11.51" fill="#99C9E0"/>
<circle cx="500.46" cy="1044.54" r="9.70" fill="#BFDCEB"/>
<circle cx="537.58" cy="1044.54" r="12.80" fill="#73B2D4"/>
<circle cx="574.71" cy="1044.54" r="13.57" fill="#5CA3CB"/>
<circle cx="611.83" cy="1044.54" r="13.68" fill="#58A0CA"/>
<circle cx="648.95" cy="1044.54" r="5.77" fill="#EEF5F9"/>
<circle cx="686.08" cy="1044.54" r="9.70" fill="#FACCB4"/>
<circle cx="723.20" cy="1044.54" r="14.18" fill="#4494C3"/>
<circle cx="760.33" cy="1044.54" r="3.02" fill="#FCFDFE"/>
<circle cx="797.45" cy="1044.54" r="14.40" fill="#D3594A"/>
<circle cx="834.57" cy="1044.54" r="13.57" fill="#5CA3CB"/>
<circle cx="871.70" cy="1044.54" r="11.51" fill="#F5AB8A"/>
<circle cx="908.82" cy="1044.54" r="6.76" fill="#E7F1F7"/>
<circle cx="945.95" cy="1044.54" r="14.45" fill="#408FC1"/>
<circle cx="983.07" cy="1044.54" r="16.29" fill="#2064A9"/>
<circle cx="1020.19" cy="1044.54" r="16.66" fill="#1A599A"/>
<circle cx="1057.32" cy="1044.54" r="18.01" fill="#053061"/>
<circle cx="1094.44" cy="1044.54" r="12.11" fill="#F19F7D"/>
<circle cx="1131.57" cy="1044.54" r="16.48" fill="#1D5EA1"/>
<circle cx="1168.69" cy="1044.54" r="8.82" fill="#CFE4EF"/>
<circle cx="1205.81" cy="1044.54" r="6.22" fill="#EBF4F9"/>
<circle cx="1242.94" cy="1044.54" r="11.78" fill="#93C5DE"/>
<circle cx="351.96" cy="1081.66" r="3.71" fill="#FFFAF8"/>
<circle cx="389.09" cy="1081.66" r="6.63" fill="#FEECE1"/>
<circle cx="426.21" cy="1081.66" r="5.27" fill="#FEF5F0"/>
<circle cx="463.33" cy="1081.66" r="11.65" fill="#F5A987"/>
<circle cx="500.46" cy="1081.66" r="7.37" fill="#FEE7D9"/>
<circle cx="537.58" cy="1081.66" r="11.65" fill="#F5A987"/>
<circle cx="574.71" cy="1081.66" r="11.23" fill="#F6B191"/>
<circle cx="611.83" cy="1081.66" r="11.09" fill="#F6B394"/>
<circle cx="648.95" cy="1081.66" r="8.24" fill="#FDDFCE"/>
<circle cx="686.08" cy="1081.66" r="4.69" fill="#FFF7F2"/>
<circle cx="723.20" cy="1081.66" r="9.70" fill="#FACCB4"/>
<circle cx="760.33" cy="1081.66" r="12.30" fill="#EE9878"/>
<circle cx="797.45" cy="1081.66" r="17.41" fill="#0D4078"/>
<circle cx="834.57" cy="1081.66" r="13.85" fill="#DB6B56"/>
<circle cx="871.70" cy="1081.66" r="10.58" fill="#F8BEA2"/>
<circle cx="908.82" cy="1081.66" r="15.23" fill="#C43D3C"/>
<circle cx="945.95" cy="1081.66" r="2.53" fill="#FEFEFF"/>
<circle cx="983.07" cy="1081.66" r="10.27" fill="#F9C4A9"/>
<circle cx="1020.19" cy="1081.66" r="11.16" fill="#F6B394"/>
<circle cx="1057.32" cy="1081.66" r="12.11" fill="#F19F7D"/>
<circle cx="1094.44" cy="1081.66" r="18.01" fill="#053061"/>
<circle cx="1131.57" cy="1081.66" r="8.91" fill="#FDD9C5"/>
<circle cx="1168.69" cy="1081.66" r="6.22" fill="#EBF4F9"/>
<circle cx="1205.81" cy="1081.66" r="10.80" fill="#A9D1E5"/>
<circle cx="1242.94" cy="1081.66" r="4.89" fill="#F5F9FC"/>
<circle cx="351.96" cy="1118.78" r="9.53" fill="#FBCFB7"/>
<circle cx="389.09" cy="1118.78" r="11.44" fill="#9CCAE1"/>
<circle cx="426.21" cy="1118.78" r="12.24" fill="#87BEDA"/>
<circle cx="463.33" cy="1118.78" r="10.11" fill="#B9D9E9"/>
<circle cx="500.46" cy="1118.78" r="12.43" fill="#7FB9D8"/>
<circle cx="537.58" cy="1118.78" r="13.68" fill="#58A0CA"/>
<circle cx="574.71" cy="1118.78" r="14.40" fill="#408FC1"/>
<circle cx="611.83" cy="1118.78" r="14.45" fill="#408FC1"/>
<circle cx="648.95" cy="1118.78" r="6.63" fill="#FEECE1"/>
<circle cx="686.08" cy="1118.78" r="10.50" fill="#F8BEA2"/>
<circle cx="723.20" cy="1118.78" r="14.92" fill="#3784BB"/>
<circle cx="760.33" cy="1118.78" r="8.63" fill="#FDDCC8"/>
<circle cx="797.45" cy="1118.78" r="11.98" fill="#F3A380"/>
<circle cx="834.57" cy="1118.78" r="14.02" fill="#4C99C6"/>
<circle cx="871.70" cy="1118.78" r="15.43" fill="#C13539"/>
<circle cx="908.82" cy="1118.78" r="10.35" fill="#F9C1A6"/>
<circle cx="945.95" cy="1118.78" r="17.58" fill="#0C3E74"/>
<circle cx="983.07" cy="1118.78" r="17.84" fill="#083569"/>
<circle cx="1020.19" cy="1118.78" r="16.20" fill="#2166AC"/>
<circle cx="1057.32" cy="1118.78" r="16.48" fill="#1D5EA1"/>
<circle cx="1094.44" cy="1118.78" r="8.91" fill="#FDD9C5"/>
<circle cx="1131.57" cy="1118.78" r="18.01" fill="#053061"/>
<circle cx="1168.69" cy="1118.78" r="11.92" fill="#8FC3DD"/>
<circle cx="1205.81" cy="1118.78" r="10.80" fill="#A9D1E5"/>
<circle cx="1242.94" cy="1118.78" r="13.45" fill="#60A5CD"/>
<circle cx="351.96" cy="1155.90" r="6.22" fill="#FEF0E7"/>
<circle cx="389.09" cy="1155.90" r="11.09" fill="#A3CEE3"/>
<circle cx="426.21" cy="1155.90" r="12.24" fill="#87BEDA"/>
<circle cx="463.33" cy="1155.90" r="3.02" fill="#FCFDFE"/>
<circle cx="500.46" cy="1155.90" r="11.72" fill="#96C7DF"/>
<circle cx="537.58" cy="1155.90" r="10.65" fill="#ACD2E6"/>
<circle cx="574.71" cy="1155.90" r="11.65" fill="#96C7DF"/>
<circle cx="611.83" cy="1155.90" r="11.92" fill="#8FC3DD"/>
<circle cx="648.95" cy="1155.90" r="11.78" fill="#F4A683"/>
<circle cx="686.08" cy="1155.90" r="9.70" fill="#FACCB4"/>
<circle cx="723.20" cy="1155.90" r="10.65" fill="#ACD2E6"/>
<circle cx="760.33" cy="1155.90" r="9.01" fill="#FCD7C1"/>
<circle cx="797.45" cy="1155.90" r="3.02" fill="#FCFDFE"/>
<circle cx="834.57" cy="1155.90" r="10.03" fill="#B9D9E9"/>
<circle cx="871.70" cy="1155.90" r="12.43" fill="#ED9575"/>
<circle cx="908.82" cy="1155.90" r="11.37" fill="#F5AE8D"/>
<circle cx="945.95" cy="1155.90" r="12.43" fill="#7FB9D8"/>
<circle cx="983.07" cy="1155.90" r="12.43" fill="#7FB9D8"/>
<circle cx="1020.19" cy="1155.90" r="5.09" fill="#F2F8FB"/>
<circle cx="1057.32" cy="1155.90" r="8.82" fill="#CFE4EF"/>
<circle cx="1094.44" cy="1155.90" r="6.22" fill="#EBF4F9"/>
<circle cx="1131.57" cy="1155.90" r="11.92" fill="#8FC3DD"/>
<circle cx="1168.69" cy="1155.90" r="18.01" fill="#053061"/>
<circle cx="1205.81" cy="1155.90" r="16.79" fill="#195696"/>
<circle cx="1242.94" cy="1155.90" r="14.92" fill="#3784BB"/>
<circle cx="351.96" cy="1193.02" r="7.37" fill="#FEE7D9"/>
<circle cx="389.09" cy="1193.02" r="7.49" fill="#E0EDF5"/>
<circle cx="426.21" cy="1193.02" r="9.87" fill="#BCDAEA"/>
<circle cx="463.33" cy="1193.02" r="6.50" fill="#FEEEE4"/>
<circle cx="500.46" cy="1193.02" r="9.70" fill="#BFDCEB"/>
<circle cx="537.58" cy="1193.02" r="7.49" fill="#E0EDF5"/>
<circle cx="574.71" cy="1193.02" r="8.34" fill="#D7E8F2"/>
<circle cx="611.83" cy="1193.02" r="8.73" fill="#D2E6F0"/>
<circle cx="648.95" cy="1193.02" r="10.80" fill="#F7B99B"/>
<circle cx="686.08" cy="1193.02" r="7.71" fill="#FEE5D6"/>
<circle cx="723.20" cy="1193.02" r="9.01" fill="#CCE2EF"/>
<circle cx="760.33" cy="1193.02" r="9.87" fill="#FAC9B0"/>
<circle cx="797.45" cy="1193.02" r="8.82" fill="#CFE4EF"/>
<circle cx="834.57" cy="1193.02" r="7.93" fill="#DBEBF3"/>
<circle cx="871.70" cy="1193.02" r="13.28" fill="#E27C63"/>
<circle cx="908.82" cy="1193.02" r="12.43" fill="#ED9575"/>
<circle cx="945.95" cy="1193.02" r="11.65" fill="#96C7DF"/>
<circle cx="983.07" cy="1193.02" r="11.02" fill="#A6CFE4"/>
<circle cx="1020.19" cy="1193.02" r="3.71" fill="#F9FCFD"/>
<circle cx="1057.32" cy="1193.02" r="6.22" fill="#EBF4F9"/>
<circle cx="1094.44" cy="1193.02" r="10.80" fill="#A9D1E5"/>
<circle cx="1131.57" cy="1193.02" r="10.80" fill="#A9D1E5"/>
<circle cx="1168.69" cy="1193.02" r="16.79" fill="#195696"/>
<circle cx="1205.81" cy="1193.02" r="18.01" fill="#053061"/>
<circle cx="1242.94" cy="1193.02" r="16.01" fill="#256BAE"/>
<circle cx="351.96" cy="1230.14" r="8.14" fill="#FDE1D1"/>
<circle cx="389.09" cy="1230.14" r="6.63" fill="#E7F1F7"/>
<circle cx="426.21" cy="1230.14" r="7.26" fill="#E2EFF6"/>
<circle cx="463.33" cy="1230.14" r="8.63" fill="#D2E6F0"/>
<circle cx="500.46" cy="1230.14" r="10.50" fill="#AFD4E6"/>
<circle cx="537.58" cy="1230.14" r="11.98" fill="#8FC3DD"/>
<circle cx="574.71" cy="1230.14" r="12.24" fill="#87BEDA"/>
<circle cx="611.83" cy="1230.14" r="12.43" fill="#7FB9D8"/>
<circle cx="648.95" cy="1230.14" r="6.76" fill="#FEECE1"/>
<circle cx="686.08" cy="1230.14" r="8.24" fill="#FDDFCE"/>
<circle cx="723.20" cy="1230.14" r="13.57" fill="#5CA3CB"/>
<circle cx="760.33" cy="1230.14" r="4.24" fill="#FFF9F5"/>
<circle cx="797.45" cy="1230.14" r="7.26" fill="#FEE8DC"/>
<circle cx="834.57" cy="1230.14" r="11.98" fill="#8FC3DD"/>
<circle cx="871.70" cy="1230.14" r="13.57" fill="#DF755E"/>
<circle cx="908.82" cy="1230.14" r="9.01" fill="#FCD7C1"/>
<circle cx="945.95" cy="1230.14" r="12.68" fill="#77B4D5"/>
<circle cx="983.07" cy="1230.14" r="14.02" fill="#4C99C6"/>
<circle cx="1020.19" cy="1230.14" r="11.16" fill="#A3CEE3"/>
<circle cx="1057.32" cy="1230.14" r="11.78" fill="#93C5DE"/>
<circle cx="1094.44" cy="1230.14" r="4.89" fill="#F5F9FC"/>
<circle cx="1131.57" cy="1230.14" r="13.45" fill="#60A5CD"/>
<circle cx="1168.69" cy="1230.14" r="14.92" fill="#3784BB"/>
<circle cx="1205.81" cy="1230.14" r="16.01" fill="#256BAE"/>
<circle cx="1242.94" cy="1230.14" r="18.01" fill="#053061"/>
</g>
<g stroke="#BEBEBE" stroke-width="3.00" stroke-linecap="round">
<line x1="333.40" y1="320.70" x2="333.40" y2="1248.70"/>
<line x1="333.40" y1="320.70" x2="1261.50" y2="320.70"/>
<line x1="370.52" y1="320.70" x2="370.52" y2="1248.70"/>
<line x1="333.40" y1="357.82" x2="1261.50" y2="357.82"/>
<line x1="407.65" y1="320.70" x2="407.65" y2="1248.70"/>
<line x1="333.40" y1="394.94" x2="1261.50" y2="394.94"/>
<line x1="444.77" y1="320.70" x2="444.77" y2="1248.70"/>
<line x1="333.40" y1="432.06" x2="1261.50" y2="432.06"/>
<line x1="481.90" y1="320.70" x2="481.90" y2="1248.70"/>
<line x1="333.40" y1="469.18" x2="1261.50" y2="469.18"/>
<line x1="519.02" y1="320.70" x2="519.02" y2="1248.70"/>
<line x1="333.40" y1="506.30" x2="1261.50" y2="506.30"/>
<line x1="556.14" y1="320.70" x2="556.14" y2="1248.70"/>
<line x1="333.40" y1="543.42" x2="1261.50" y2="543.42"/>
<line x1="593.27" y1="320.70" x2="593.27" y2="1248.70"/>
<line x1="333.40" y1="580.54" x2="1261.50" y2="580.54"/>
<line x1="630.39" y1="320.70" x2="630.39" y2="1248.70"/>
<line x1="333.40" y1="617.66" x2="1261.50" y2="617.66"/>
<line x1="667.52" y1="320.70" x2="667.52" y2="1248.70"/>
<line x1="333.40" y1="654.78" x2="1261.50" y2="654.78"/>
<line x1="704.64" y1="320.70" x2="704.64" y2="1248.70"/>
<line x1="333.40" y1="691.90" x2="1261.50" y2="691.90"/>
<line x1="741.76" y1="320.70" x2="741.76" y2="1248.70"/>
<line x1="333.40" y1="729.02" x2="1261.50" y2="729.02"/>
<line x1="778.89" y1="320.70" x2="778.89" y2="1248.70"/>
<line x1="333.40" y1="766.14" x2="1261.50" y2="766.14"/>
<line x1="816.01" y1="320.70" x2="816.01" y2="1248.70"/>
<line x1="333.40" y1="803.26" x2="1261.50" y2="803.26"/>
<line x1="853.14" y1="320.70" x2="853.14" y2="1248.70"/>
<line x1="333.40" y1="840.38" x2="1261.50" y2="840.38"/>
<line x1="890.26" y1="320.70" x2="890.26" y2="1248.70"/>
<line x1="333.40" y1="877.50" x2="1261.50" y2="877.50"/>
<line x1="927.38" y1="320.70" x2="927.38" y2="1248.70"/>
<line x1="333.40" y1="914.62" x2="1261.50" y2="914.62"/>
<line x1="964.51" y1="320.70" x2="964.51" y2="1248.70"/>
<line x1="333.40" y1="951.74" x2="1261.50" y2="951.74"/>
<line x1="1001.63" y1="320.70" x2="1001.63" y2="1248.70"/>
<line x1="333.40" y1="988.86" x2="1261.50" y2="988.86"/>
<line x1="1038.76" y1="320.70" x2="1038.76" y2="1248.70"/>
<line x1="333.40" y1="1025.98" x2="1261.50" y2="1025.98"/>
<line x1="1075.88" y1="320.70" x2="1075.88" y2="1248.70"/>
<line x1="333.40" y1="1063.10" x2="1261.50" y2="1063.10"/>
<line x1="1113.00" y1="320.70" x2="1113.00" y2="1248.70"/>
<line x1="333.40" y1="1100.22" x2="1261.50" y2="1100.22"/>
<line x1="1150.13" y1="320.70" x2="1150.13" y2="1248.70"/>
<line x1="333.40" y1="1137.34" x2="1261.50" y2="1137.34"/>
<line x1="1187.25" y1="320.70" x2="1187.25" y2="1248.70"/>
<line x1="333.40" y1="1174.46" x2="1261.50" y2="1174.46"/>
<line x1="1224.38" y1="320.70" x2="1224.38" y2="1248.70"/>
<line x1="333.40" y1="1211.58" x2="1261.50" y2="1211.58"/>
<line x1="1261.50" y1="320.70" x2="1261.50" y2="1248.70"/>
<line x1="333.40" y1="1248.70" x2="1261.50" y2="1248.70"/>
</g>
<g fill="#FF0000" stroke="#FF0000" stroke-width="0.40" font-size="23.20">
<text x="313.90" y="345.16" text-anchor="end">Population density</text>
<text x="313.90" y="382.28" text-anchor="end">GDP per capita</text>
<text x="310.30" y="419.40" text-anchor="end">Total healthcare expenditure</text>
<text x="313.90" y="456.52" text-anchor="end" letter-spacing="0.065">Hospital beds per thousand</text>
<text x="313.90" y="493.64" text-anchor="end">Life expectancy at birth</text>
<text x="313.90" y="530.76" text-anchor="end">Median age</text>
<text x="313.90" y="567.88" text-anchor="end">Aged 65 or older</text>
<text x="313.90" y="605.00" text-anchor="end">Aged 70 or older</text>
<text x="313.90" y="642.12" text-anchor="end" letter-spacing="0.040">Cardiovascular death rate</text>
<text x="313.90" y="679.24" text-anchor="end">Diabetes prevalence</text>
<text x="313.90" y="716.36" text-anchor="end" letter-spacing="0.060">Percentage of female smokers</text>
<text x="313.90" y="753.48" text-anchor="end" letter-spacing="0.060">Percentage of male smokers</text>
<text x="313.90" y="790.60" text-anchor="end">O<tspan dy="1.86">+</tspan></text>
<text x="313.90" y="827.72" text-anchor="end">A<tspan dy="1.86">+</tspan></text>
<text x="313.90" y="864.84" text-anchor="end">B<tspan dy="1.86">+</tspan></text>
<text x="313.90" y="901.96" text-anchor="end">AB<tspan dy="1.86">+</tspan></text>
<text x="313.90" y="939.08" text-anchor="end">O<tspan dy="1.86">−</tspan></text>
<text x="313.90" y="976.20" text-anchor="end">A<tspan dy="1.86">−</tspan></text>
<text x="313.90" y="1013.32" text-anchor="end">B<tspan dy="1.86">−</tspan></text>
<text x="313.90" y="1050.44" text-anchor="end">AB<tspan dy="1.86">−</tspan></text>
<text x="313.90" y="1087.56" text-anchor="end">O / non O</text>
<text x="313.90" y="1124.68" text-anchor="end">Rh<tspan dy="1.86">−</tspan><tspan dy="-1.86"> </tspan>/ Rh<tspan dy="1.86">+</tspan></text>
<text x="313.90" y="1161.80" text-anchor="end">TDPM June</text>
<text x="313.90" y="1198.92" text-anchor="end">TDPM September</text>
<text x="313.90" y="1236.04" text-anchor="end" letter-spacing="0.060">TDPM December</text>
<text transform="translate(357.86,311.60) rotate(-90)">Population density</text>
<text transform="translate(394.99,311.60) rotate(-90)">GDP per capita</text>
<text transform="translate(432.11,311.60) rotate(-90)">Total healthcare expenditure</text>
<text transform="translate(469.23,311.60) rotate(-90)" letter-spacing="0.065">Hospital beds per thousand</text>
<text transform="translate(506.36,311.60) rotate(-90)">Life expectancy at birth</text>
<text transform="translate(543.48,311.60) rotate(-90)">Median age</text>
<text transform="translate(580.61,311.60) rotate(-90)">Aged 65 or older</text>
<text transform="translate(617.73,311.60) rotate(-90)">Aged 70 or older</text>
<text transform="translate(657.05,311.60) rotate(-90)" letter-spacing="0.040">Cardiovascular death rate</text>
<text transform="translate(691.98,311.60) rotate(-90)">Diabetes prevalence</text>
<text transform="translate(729.10,311.60) rotate(-90)" letter-spacing="0.060">Percentage of female smokers</text>
<text transform="translate(766.23,311.60) rotate(-90)" letter-spacing="0.060">Percentage of male smokers</text>
<text transform="translate(805.55,311.60) rotate(-90)">O<tspan dy="1.86">+</tspan></text>
<text transform="translate(842.67,311.60) rotate(-90)">A<tspan dy="1.86">+</tspan></text>
<text transform="translate(879.80,311.60) rotate(-90)">B<tspan dy="1.86">+</tspan></text>
<text transform="translate(916.92,311.60) rotate(-90)">AB<tspan dy="1.86">+</tspan></text>
<text transform="translate(954.05,311.60) rotate(-90)">O<tspan dy="1.86">−</tspan></text>
<text transform="translate(991.17,311.60) rotate(-90)">A<tspan dy="1.86">−</tspan></text>
<text transform="translate(1028.29,311.60) rotate(-90)">B<tspan dy="1.86">−</tspan></text>
<text transform="translate(1065.42,311.60) rotate(-90)">AB<tspan dy="1.86">−</tspan></text>
<text transform="translate(1102.54,311.60) rotate(-90)">O / non O</text>
<text transform="translate(1139.67,311.60) rotate(-90)">Rh<tspan dy="1.86">−</tspan><tspan dy="-1.86"> </tspan>/ Rh<tspan dy="1.86">+</tspan></text>
<text transform="translate(1176.79,311.60) rotate(-90)">TDPM June</text>
<text transform="translate(1211.71,311.60) rotate(-90)">TDPM September</text>
<text transform="translate(1251.04,311.60) rotate(-90)" letter-spacing="0.060">TDPM December</text>
</g>
<g shape-rendering="crispEdges">
<rect x="1278.80" y="1244.060" width="35.10" height="5.240" fill="#67001F"/>
<rect x="1278.80" y="1239.420" width="35.10" height="5.240" fill="#6B0120"/>
<rect x="1278.80" y="1234.780" width="35.10" height="5.240" fill="#6F0220"/>
<rect x="1278.80" y="1230.140" width="35.10" height="5.240" fill="#720421"/>
<rect x="1278.80" y="1225.500" width="35.10" height="5.240" fill="#760521"/>
<rect x="1278.80" y="1220.860" width="35.10" height="5.240" fill="#7A0622"/>
<rect x="1278.80" y="1216.220" width="35.10" height="5.240" fill="#7E0723"/>
<rect x="1278.80" y="1211.580" width="35.10" height="5.240" fill="#810823"/>
<rect x="1278.80" y="1206.940" width="35.10" height="5.240" fill="#850A24"/>
<rect x="1278.80" y="1202.300" width="35.10" height="5.240" fill="#890B24"/>
<rect x="1278.80" y="1197.660" width="35.10" height="5.240" fill="#8D0C25"/>
<rect x="1278.80" y="1193.020" width="35.10" height="5.240" fill="#900D26"/>
<rect x="1278.80" y="1188.380" width="35.10" height="5.240" fill="#940E26"/>
<rect x="1278.80" y="1183.740" width="35.10" height="5.240" fill="#981027"/>
<rect x="1278.80" y="1179.100" width="35.10" height="5.240" fill="#9C1127"/>
<rect x="1278.80" y="1174.460" width="35.10" height="5.240" fill="#A01228"/>
<rect x="1278.80" y="1169.820" width="35.10" height="5.240" fill="#A31329"/>
<rect x="1278.80" y="1165.180" width="35.10" height="5.240" fill="#A71529"/>
<rect x="1278.80" y="1160.540" width="35.10" height="5.240" fill="#AB162A"/>
<rect x="1278.80" y="1155.900" width="35.10" height="5.240" fill="#AF172A"/>
<rect x="1278.80" y="1151.260" width="35.10" height="5.240" fill="#B2182B"/>
<rect x="1278.80" y="1146.620" width="35.10" height="5.240" fill="#B41C2D"/>
<rect x="1278.80" y="1141.980" width="35.10" height="5.240" fill="#B6202F"/>
<rect x="1278.80" y="1137.340" width="35.10" height="5.240" fill="#B82330"/>
<rect x="1278.80" y="1132.700" width="35.10" height="5.240" fill="#B92732"/>
<rect x="1278.80" y="1128.060" width="35.10" height="5.240" fill="#BB2A34"/>
<rect x="1278.80" y="1123.420" width="35.10" height="5.240" fill="#BD2E35"/>
<rect x="1278.80" y="1118.780" width="35.10" height="5.240" fill="#BF3237"/>
<rect x="1278.80" y="1114.140" width="35.10" height="5.240" fill="#C13539"/>
<rect x="1278.80" y="1109.500" width="35.10" height="5.240" fill="#C2393B"/>
<rect x="1278.80" y="1104.860" width="35.10" height="5.240" fill="#C43D3C"/>
<rect x="1278.80" y="1100.220" width="35.10" height="5.240" fill="#C6403E"/>
<rect x="1278.80" y="1095.580" width="35.10" height="5.240" fill="#C84440"/>
<rect x="1278.80" y="1090.940" width="35.10" height="5.240" fill="#CA4741"/>
<rect x="1278.80" y="1086.300" width="35.10" height="5.240" fill="#CC4B43"/>
<rect x="1278.80" y="1081.660" width="35.10" height="5.240" fill="#CD4F45"/>
<rect x="1278.80" y="1077.020" width="35.10" height="5.240" fill="#CF5247"/>
<rect x="1278.80" y="1072.380" width="35.10" height="5.240" fill="#D15648"/>
<rect x="1278.80" y="1067.740" width="35.10" height="5.240" fill="#D3594A"/>
<rect x="1278.80" y="1063.100" width="35.10" height="5.240" fill="#D55D4C"/>
<rect x="1278.80" y="1058.460" width="35.10" height="5.240" fill="#D6614E"/>
<rect x="1278.80" y="1053.820" width="35.10" height="5.240" fill="#D86450"/>
<rect x="1278.80" y="1049.180" width="35.10" height="5.240" fill="#D96853"/>
<rect x="1278.80" y="1044.540" width="35.10" height="5.240" fill="#DB6B56"/>
<rect x="1278.80" y="1039.900" width="35.10" height="5.240" fill="#DC6F58"/>
<rect x="1278.80" y="1035.260" width="35.10" height="5.240" fill="#DE725B"/>
<rect x="1278.80" y="1030.620" width="35.10" height="5.240" fill="#DF755E"/>
<rect x="1278.80" y="1025.980" width="35.10" height="5.240" fill="#E17960"/>
<rect x="1278.80" y="1021.340" width="35.10" height="5.240" fill="#E27C63"/>
<rect x="1278.80" y="1016.700" width="35.10" height="5.240" fill="#E48066"/>
<rect x="1278.80" y="1012.060" width="35.10" height="5.240" fill="#E58368"/>
<rect x="1278.80" y="1007.420" width="35.10" height="5.240" fill="#E7876B"/>
<rect x="1278.80" y="1002.780" width="35.10" height="5.240" fill="#E88A6D"/>
<rect x="1278.80" y="998.140" width="35.10" height="5.240" fill="#EA8E70"/>
<rect x="1278.80" y="993.500" width="35.10" height="5.240" fill="#EB9173"/>
<rect x="1278.80" y="988.860" width="35.10" height="5.240" fill="#ED9575"/>
<rect x="1278.80" y="984.220" width="35.10" height="5.240" fill="#EE9878"/>
<rect x="1278.80" y="979.580" width="35.10" height="5.240" fill="#F09C7B"/>
<rect x="1278.80" y="974.940" width="35.10" height="5.240" fill="#F19F7D"/>
<rect x="1278.80" y="970.300" width="35.10" height="5.240" fill="#F3A380"/>
<rect x="1278.80" y="965.660" width="35.10" height="5.240" fill="#F4A683"/>
<rect x="1278.80" y="961.020" width="35.10" height="5.240" fill="#F5A987"/>
<rect x="1278.80" y="956.380" width="35.10" height="5.240" fill="#F5AB8A"/>
<rect x="1278.80" y="951.740" width="35.10" height="5.240" fill="#F5AE8D"/>
<rect x="1278.80" y="947.100" width="35.10" height="5.240" fill="#F6B191"/>
<rect x="1278.80" y="942.460" width="35.10" height="5.240" fill="#F6B394"/>
<rect x="1278.80" y="937.820" width="35.10" height="5.240" fill="#F7B698"/>
<rect x="1278.80" y="933.180" width="35.10" height="5.240" fill="#F7B99B"/>
<rect x="1278.80" y="928.540" width="35.10" height="5.240" fill="#F8BC9F"/>
<rect x="1278.80" y="923.900" width="35.10" height="5.240" fill="#F8BEA2"/>
<rect x="1278.80" y="919.260" width="35.10" height="5.240" fill="#F9C1A6"/>
<rect x="1278.80" y="914.620" width="35.10" height="5.240" fill="#F9C4A9"/>
<rect x="1278.80" y="909.980" width="35.10" height="5.240" fill="#FAC6AD"/>
<rect x="1278.80" y="905.340" width="35.10" height="5.240" fill="#FAC9B0"/>
<rect x="1278.80" y="900.700" width="35.10" height="5.240" fill="#FACCB4"/>
<rect x="1278.80" y="896.060" width="35.10" height="5.240" fill="#FBCFB7"/>
<rect x="1278.80" y="891.420" width="35.10" height="5.240" fill="#FBD1BB"/>
<rect x="1278.80" y="886.780" width="35.10" height="5.240" fill="#FCD4BE"/>
<rect x="1278.80" y="882.140" width="35.10" height="5.240" fill="#FCD7C1"/>
<rect x="1278.80" y="877.500" width="35.10" height="5.240" fill="#FDD9C5"/>
<rect x="1278.80" y="872.860" width="35.10" height="5.240" fill="#FDDCC8"/>
<rect x="1278.80" y="868.220" width="35.10" height="5.240" fill="#FDDECB"/>
<rect x="1278.80" y="863.580" width="35.10" height="5.240" fill="#FDDFCE"/>
<rect x="1278.80" y="858.940" width="35.10" height="5.240" fill="#FDE1D1"/>
<rect x="1278.80" y="854.300" width="35.10" height="5.240" fill="#FDE3D3"/>
<rect x="1278.80" y="849.660" width="35.10" height="5.240" fill="#FEE5D6"/>
<rect x="1278.80" y="845.020" width="35.10" height="5.240" fill="#FEE7D9"/>
<rect x="1278.80" y="840.380" width="35.10" height="5.240" fill="#FEE8DC"/>
<rect x="1278.80" y="835.740" width="35.10" height="5.240" fill="#FEEADF"/>
<rect x="1278.80" y="831.100" width="35.10" height="5.240" fill="#FEECE1"/>
<rect x="1278.80" y="826.460" width="35.10" height="5.240" fill="#FEEEE4"/>
<rect x="1278.80" y="821.820" width="35.10" height="5.240" fill="#FEF0E7"/>
<rect x="1278.80" y="817.180" width="35.10" height="5.240" fill="#FEF1EA"/>
<rect x="1278.80" y="812.540" width="35.10" height="5.240" fill="#FEF3ED"/>
<rect x="1278.80" y="807.900" width="35.10" height="5.240" fill="#FEF5F0"/>
<rect x="1278.80" y="803.260" width="35.10" height="5.240" fill="#FFF7F2"/>
<rect x="1278.80" y="798.620" width="35.10" height="5.240" fill="#FFF9F5"/>
<rect x="1278.80" y="793.980" width="35.10" height="5.240" fill="#FFFAF8"/>
<rect x="1278.80" y="789.340" width="35.10" height="5.240" fill="#FFFCFB"/>
<rect x="1278.80" y="784.700" width="35.10" height="5.240" fill="#FFFEFE"/>
<rect x="1278.80" y="780.060" width="35.10" height="5.240" fill="#FEFEFF"/>
<rect x="1278.80" y="775.420" width="35.10" height="5.240" fill="#FCFDFE"/>
<rect x="1278.80" y="770.780" width="35.10" height="5.240" fill="#F9FCFD"/>
<rect x="1278.80" y="766.140" width="35.10" height="5.240" fill="#F7FAFC"/>
<rect x="1278.80" y="761.500" width="35.10" height="5.240" fill="#F5F9FC"/>
<rect x="1278.80" y="756.860" width="35.10" height="5.240" fill="#F2F8FB"/>
<rect x="1278.80" y="752.220" width="35.10" height="5.240" fill="#F0F7FA"/>
<rect x="1278.80" y="747.580" width="35.10" height="5.240" fill="#EEF5F9"/>
<rect x="1278.80" y="742.940" width="35.10" height="5.240" fill="#EBF4F9"/>
<rect x="1278.80" y="738.300" width="35.10" height="5.240" fill="#E9F3F8"/>
<rect x="1278.80" y="733.660" width="35.10" height="5.240" fill="#E7F1F7"/>
<rect x="1278.80" y="729.020" width="35.10" height="5.240" fill="#E4F0F6"/>
<rect x="1278.80" y="724.380" width="35.10" height="5.240" fill="#E2EFF6"/>
<rect x="1278.80" y="719.740" width="35.10" height="5.240" fill="#E0EDF5"/>
<rect x="1278.80" y="715.100" width="35.10" height="5.240" fill="#DDECF4"/>
<rect x="1278.80" y="710.460" width="35.10" height="5.240" fill="#DBEBF3"/>
<rect x="1278.80" y="705.820" width="35.10" height="5.240" fill="#D9E9F3"/>
<rect x="1278.80" y="701.180" width="35.10" height="5.240" fill="#D7E8F2"/>
<rect x="1278.80" y="696.540" width="35.10" height="5.240" fill="#D4E7F1"/>
<rect x="1278.80" y="691.900" width="35.10" height="5.240" fill="#D2E6F0"/>
<rect x="1278.80" y="687.260" width="35.10" height="5.240" fill="#CFE4EF"/>
<rect x="1278.80" y="682.620" width="35.10" height="5.240" fill="#CCE2EF"/>
<rect x="1278.80" y="677.980" width="35.10" height="5.240" fill="#C9E1EE"/>
<rect x="1278.80" y="673.340" width="35.10" height="5.240" fill="#C6DFED"/>
<rect x="1278.80" y="668.700" width="35.10" height="5.240" fill="#C2DEEC"/>
<rect x="1278.80" y="664.060" width="35.10" height="5.240" fill="#BFDCEB"/>
<rect x="1278.80" y="659.420" width="35.10" height="5.240" fill="#BCDAEA"/>
<rect x="1278.80" y="654.780" width="35.10" height="5.240" fill="#B9D9E9"/>
<rect x="1278.80" y="650.140" width="35.10" height="5.240" fill="#B6D7E8"/>
<rect x="1278.80" y="645.500" width="35.10" height="5.240" fill="#B3D6E7"/>
<rect x="1278.80" y="640.860" width="35.10" height="5.240" fill="#AFD4E6"/>
<rect x="1278.80" y="636.220" width="35.10" height="5.240" fill="#ACD2E6"/>
<rect x="1278.80" y="631.580" width="35.10" height="5.240" fill="#A9D1E5"/>
<rect x="1278.80" y="626.940" width="35.10" height="5.240" fill="#A6CFE4"/>
<rect x="1278.80" y="622.300" width="35.10" height="5.240" fill="#A3CEE3"/>
<rect x="1278.80" y="617.660" width="35.10" height="5.240" fill="#A0CCE2"/>
<rect x="1278.80" y="613.020" width="35.10" height="5.240" fill="#9CCAE1"/>
<rect x="1278.80" y="608.380" width="35.10" height="5.240" fill="#99C9E0"/>
<rect x="1278.80" y="603.740" width="35.10" height="5.240" fill="#96C7DF"/>
<rect x="1278.80" y="599.100" width="35.10" height="5.240" fill="#93C5DE"/>
<rect x="1278.80" y="594.460" width="35.10" height="5.240" fill="#8FC3DD"/>
<rect x="1278.80" y="589.820" width="35.10" height="5.240" fill="#8BC1DC"/>
<rect x="1278.80" y="585.180" width="35.10" height="5.240" fill="#87BEDA"/>
<rect x="1278.80" y="580.540" width="35.10" height="5.240" fill="#83BCD9"/>
<rect x="1278.80" y="575.900" width="35.10" height="5.240" fill="#7FB9D8"/>
<rect x="1278.80" y="571.260" width="35.10" height="5.240" fill="#7BB7D6"/>
<rect x="1278.80" y="566.620" width="35.10" height="5.240" fill="#77B4D5"/>
<rect x="1278.80" y="561.980" width="35.10" height="5.240" fill="#73B2D4"/>
<rect x="1278.80" y="557.340" width="35.10" height="5.240" fill="#6FAFD2"/>
<rect x="1278.80" y="552.700" width="35.10" height="5.240" fill="#6BADD1"/>
<rect x="1278.80" y="548.060" width="35.10" height="5.240" fill="#68AACF"/>
<rect x="1278.80" y="543.420" width="35.10" height="5.240" fill="#64A8CE"/>
<rect x="1278.80" y="538.780" width="35.10" height="5.240" fill="#60A5CD"/>
<rect x="1278.80" y="534.140" width="35.10" height="5.240" fill="#5CA3CB"/>
<rect x="1278.80" y="529.500" width="35.10" height="5.240" fill="#58A0CA"/>
<rect x="1278.80" y="524.860" width="35.10" height="5.240" fill="#549EC9"/>
<rect x="1278.80" y="520.220" width="35.10" height="5.240" fill="#509BC7"/>
<rect x="1278.80" y="515.580" width="35.10" height="5.240" fill="#4C99C6"/>
<rect x="1278.80" y="510.940" width="35.10" height="5.240" fill="#4896C5"/>
<rect x="1278.80" y="506.300" width="35.10" height="5.240" fill="#4494C3"/>
<rect x="1278.80" y="501.660" width="35.10" height="5.240" fill="#4291C2"/>
<rect x="1278.80" y="497.020" width="35.10" height="5.240" fill="#408FC1"/>
<rect x="1278.80" y="492.380" width="35.10" height="5.240" fill="#3E8DC0"/>
<rect x="1278.80" y="487.740" width="35.10" height="5.240" fill="#3D8ABF"/>
<rect x="1278.80" y="483.100" width="35.10" height="5.240" fill="#3B88BD"/>
<rect x="1278.80" y="478.460" width="35.10" height="5.240" fill="#3986BC"/>
<rect x="1278.80" y="473.820" width="35.10" height="5.240" fill="#3784BB"/>
<rect x="1278.80" y="469.180" width="35.10" height="5.240" fill="#3681BA"/>
<rect x="1278.80" y="464.540" width="35.10" height="5.240" fill="#347FB9"/>
<rect x="1278.80" y="459.900" width="35.10" height="5.240" fill="#327DB8"/>
<rect x="1278.80" y="455.260" width="35.10" height="5.240" fill="#317BB7"/>
<rect x="1278.80" y="450.620" width="35.10" height="5.240" fill="#2F78B5"/>
<rect x="1278.80" y="445.980" width="35.10" height="5.240" fill="#2D76B4"/>
<rect x="1278.80" y="441.340" width="35.10" height="5.240" fill="#2B74B3"/>
<rect x="1278.80" y="436.700" width="35.10" height="5.240" fill="#2A72B2"/>
<rect x="1278.80" y="432.060" width="35.10" height="5.240" fill="#286FB1"/>
<rect x="1278.80" y="427.420" width="35.10" height="5.240" fill="#266DB0"/>
<rect x="1278.80" y="422.780" width="35.10" height="5.240" fill="#256BAE"/>
<rect x="1278.80" y="418.140" width="35.10" height="5.240" fill="#2368AD"/>
<rect x="1278.80" y="413.500" width="35.10" height="5.240" fill="#2166AC"/>
<rect x="1278.80" y="408.860" width="35.10" height="5.240" fill="#2064A9"/>
<rect x="1278.80" y="404.220" width="35.10" height="5.240" fill="#1E61A5"/>
<rect x="1278.80" y="399.580" width="35.10" height="5.240" fill="#1D5EA1"/>
<rect x="1278.80" y="394.940" width="35.10" height="5.240" fill="#1C5B9D"/>
<rect x="1278.80" y="390.300" width="35.10" height="5.240" fill="#1A599A"/>
<rect x="1278.80" y="385.660" width="35.10" height="5.240" fill="#195696"/>
<rect x="1278.80" y="381.020" width="35.10" height="5.240" fill="#175392"/>
<rect x="1278.80" y="376.380" width="35.10" height="5.240" fill="#16518E"/>
<rect x="1278.80" y="371.740" width="35.10" height="5.240" fill="#144E8A"/>
<rect x="1278.80" y="367.100" width="35.10" height="5.240" fill="#134B87"/>
<rect x="1278.80" y="362.460" width="35.10" height="5.240" fill="#124883"/>
<rect x="1278.80" y="357.820" width="35.10" height="5.240" fill="#10467F"/>
<rect x="1278.80" y="353.180" width="35.10" height="5.240" fill="#0F437B"/>
<rect x="1278.80" y="348.540" width="35.10" height="5.240" fill="#0D4078"/>
<rect x="1278.80" y="343.900" width="35.10" height="5.240" fill="#0C3E74"/>
<rect x="1278.80" y="339.260" width="35.10" height="5.240" fill="#0B3B70"/>
<rect x="1278.80" y="334.620" width="35.10" height="5.240" fill="#09386C"/>
<rect x="1278.80" y="329.980" width="35.10" height="5.240" fill="#083569"/>
<rect x="1278.80" y="325.340" width="35.10" height="5.240" fill="#063365"/>
<rect x="1278.80" y="320.700" width="35.10" height="5.240" fill="#053061"/>
</g>
<rect x="1278.80" y="320.70" width="35.10" height="928.00" fill="none" stroke="#000" stroke-linejoin="round" stroke-width="3.00"/>
<g stroke="#000" stroke-width="3.00" stroke-linecap="round">
<line x1="1313.90" y1="320.70" x2="1320.60" y2="320.70"/>
<line x1="1313.90" y1="413.50" x2="1320.60" y2="413.50"/>
<line x1="1313.90" y1="506.30" x2="1320.60" y2="506.30"/>
<line x1="1313.90" y1="599.10" x2="1320.60" y2="599.10"/>
<line x1="1313.90" y1="691.90" x2="1320.60" y2="691.90"/>
<line x1="1313.90" y1="784.70" x2="1320.60" y2="784.70"/>
<line x1="1313.90" y1="877.50" x2="1320.60" y2="877.50"/>
<line x1="1313.90" y1="970.30" x2="1320.60" y2="970.30"/>
<line x1="1313.90" y1="1063.10" x2="1320.60" y2="1063.10"/>
<line x1="1313.90" y1="1155.90" x2="1320.60" y2="1155.90"/>
<line x1="1313.90" y1="1248.70" x2="1320.60" y2="1248.70"/>
</g>
<g fill="#000" stroke="#000" stroke-width="0.40" font-size="23.60" text-anchor="middle">
<text x="1357.80" y="329.60">1</text>
<text x="1357.80" y="422.40">0.8</text>
<text x="1357.80" y="515.20">0.6</text>
<text x="1357.80" y="608.00">0.4</text>
<text x="1357.80" y="700.80">0.2</text>
<text x="1357.80" y="793.60">0</text>
<text x="1357.80" y="886.40"><tspan dy="1.89">−</tspan><tspan dy="-1.89">0</tspan>.2</text>
<text x="1357.80" y="979.20"><tspan dy="1.89">−</tspan><tspan dy="-1.89">0</tspan>.4</text>
<text x="1357.80" y="1072.00"><tspan dy="1.89">−</tspan><tspan dy="-1.89">0</tspan>.6</text>
<text x="1357.80" y="1164.80"><tspan dy="1.89">−</tspan><tspan dy="-1.89">0</tspan>.8</text>
<text x="1357.80" y="1257.60"><tspan dy="1.89">−</tspan><tspan dy="-1.89">1</tspan></text>
</g>
</svg></body></html>
